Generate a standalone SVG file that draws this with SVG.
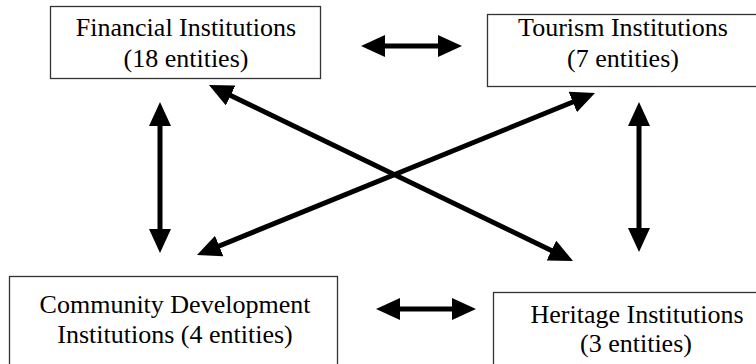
<svg xmlns="http://www.w3.org/2000/svg" width="756" height="364" viewBox="0 0 756 364">
  <style>
    .box { fill: #ffffff; stroke: #333333; stroke-width: 1.3; }
    .lbl { font-family: "Liberation Serif", "Times New Roman", serif; font-size: 26px; fill: #000000; text-anchor: middle; }
    .conn { stroke: #000000; stroke-width: 5; fill: none; marker-start: url(#head); marker-end: url(#head); }
  </style>
  <defs>
    <marker id="head" viewBox="0 0 24 22" refX="12" refY="11" markerWidth="24" markerHeight="22" markerUnits="userSpaceOnUse" orient="auto-start-reverse">
      <path d="M0,0 L24,11 L0,22 Z" fill="#000000"/>
    </marker>
  </defs>
  <rect x="0" y="0" width="756" height="364" fill="#ffffff"/>

  <g id="financial">
    <rect class="box" x="50.5" y="6.5" width="270" height="72"/>
    <text class="lbl" x="186" y="36">Financial Institutions</text>
    <text class="lbl" x="186" y="67">(18 entities)</text>
  </g>
  <g id="tourism">
    <rect class="box" x="487.5" y="14.5" width="280" height="72"/>
    <text class="lbl" x="623" y="36">Tourism Institutions</text>
    <text class="lbl" x="623" y="67">(7 entities)</text>
  </g>
  <g id="community">
    <rect class="box" x="9.5" y="276.5" width="328" height="100"/>
    <text class="lbl" x="175" y="313">Community Development</text>
    <text class="lbl" x="175" y="343">Institutions (4 entities)</text>
  </g>
  <g id="heritage">
    <rect class="box" x="493.5" y="292.5" width="280" height="100"/>
    <text class="lbl" x="637" y="322.5">Heritage Institutions</text>
    <text class="lbl" x="636" y="352">(3 entities)</text>
  </g>

  <g id="connectors">
    <line class="conn" x1="373" y1="46" x2="450" y2="46"/>
    <line class="conn" x1="388" y1="309" x2="464" y2="309"/>
    <line class="conn" x1="160" y1="114" x2="160" y2="241"/>
    <line class="conn" x1="639" y1="114" x2="639" y2="240"/>
    <line class="conn" x1="219.8" y1="90.25" x2="562.2" y2="255.75"/>
    <line class="conn" x1="208.1" y1="250.5" x2="583.9" y2="97.5"/>
  </g>
</svg>
